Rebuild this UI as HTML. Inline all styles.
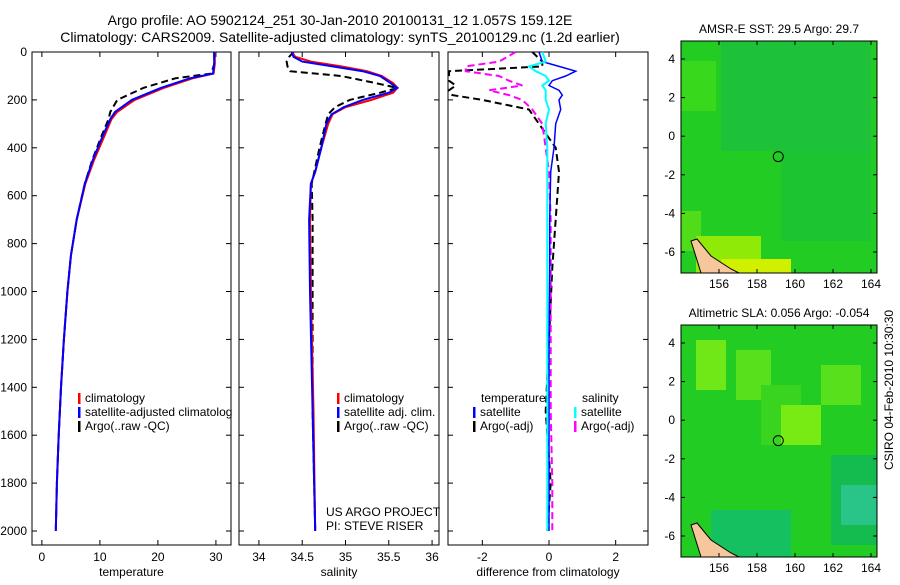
<!DOCTYPE html>
<html><head><meta charset="utf-8"><style>
body{margin:0;background:#fff;width:900px;height:580px;overflow:hidden}
svg{font-family:"Liberation Sans",sans-serif;}
</style></head><body>
<svg id="c" width="900" height="580" xmlns="http://www.w3.org/2000/svg">
<text x="340" y="25" text-anchor="middle" font-size="14">Argo profile: AO 5902124_251 30-Jan-2010 20100131_12 1.057S 159.12E</text>
<text x="340" y="42" text-anchor="middle" font-size="14">Climatology: CARS2009. Satellite-adjusted climatology: synTS_20100129.nc (1.2d earlier)</text>
</svg>
<script>
// ---- data ----
const depth = [0,50,90,110,150,200,250,280,350,450,550,700,850,1000,1200,1400,1600,1800,2000];
const tempClim = [29.8,29.8,29.6,26,21,16,13,12,10.8,9,7.5,6,5,4.4,3.8,3.3,2.9,2.6,2.4];
const tempSat  = [29.7,29.7,29.5,25.5,20.5,15.5,12.6,11.8,10.5,8.8,7.4,6,5,4.4,3.8,3.3,2.9,2.6,2.4];
const tempArgo = [29.7,29.7,29.2,23,17.5,13,11.8,11.5,10.3,8.7,7.4,6,5,4.4,3.8,3.3,2.9,2.6,2.4];
const salDepth = [0,20,40,60,80,100,130,150,170,200,230,260,300,400,500,550,700,1000,1500,2000];
const salClim = [34.38,34.42,34.6,34.95,35.25,35.42,35.55,35.6,35.55,35.3,35.0,34.85,34.8,34.72,34.65,34.6,34.59,34.6,34.63,34.65];
const salSat  = [34.38,34.4,34.5,34.85,35.2,35.4,35.52,35.6,35.5,35.2,34.98,34.84,34.78,34.72,34.65,34.6,34.58,34.59,34.62,34.65];
const salArgo = [34.4,34.35,34.32,34.33,34.36,34.95,35.35,35.6,35.4,35.05,34.88,34.8,34.77,34.7,34.64,34.61,34.62,34.62,34.62,34.65];
const dDepth = [0,40,60,80,100,120,140,160,180,200,240,300,400,500,700,900,1200,1500,1800,2000];
const dTsat  = [-0.3,-0.2,0.3,0.8,0.5,0.1,0.0,0.3,0.4,0.3,0.35,0.2,0.15,0.05,0.02,0.02,0.0,0.0,0.0,0.0];
const dTargo = [-0.5,-0.2,-0.2,-3,-3,-3,-2.8,-3,-2.9,-2,-0.6,-0.3,0.2,0.3,0.2,0.1,0.0,-0.1,0.05,-0.05];
const dSsat  = [-0.2,-0.1,-0.6,-0.4,-0.1,0.0,-0.2,-0.1,-0.1,-0.1,0.0,-0.1,-0.05,-0.05,-0.05,-0.05,-0.05,-0.05,-0.05,-0.05];
const dSargo = [-1,-1.5,-2.5,-2.5,-1.5,-1.2,-0.8,-1.8,-1.2,-0.8,-0.5,-0.2,-0.1,0.0,0.05,0.05,0.05,0.05,0.1,0.1];
const tTicks=[0,10,20,30], sTicks=[34,34.5,35,35.5,36], dTicks=[-2,0,2], yTicks=[0,200,400,600,800,1000,1200,1400,1600,1800,2000];
const lonTicks=[156,158,160,162,164], latTicks=[4,2,0,-2,-4,-6];

const svg=document.getElementById('c'), NS='http://www.w3.org/2000/svg';
function el(t,a,txt){const e=document.createElementNS(NS,t);for(const k in a)e.setAttribute(k,a[k]);if(txt!==undefined)e.textContent=txt;svg.appendChild(e);return e;}
const Y=d=>52+(d/2000)*479;
function panel(x0,x1,dmin,dmax,ticks,xlabel,name,showY){
  const X=v=>x0+(v-dmin)/(dmax-dmin)*(x1-x0);
  const r=el('rect',{x:x0,y:52,width:x1-x0,height:493,fill:'none',stroke:'#000'});
  
  ticks.forEach(t=>{const x=X(t);el('line',{x1:x,x2:x,y1:545,y2:540,stroke:'#000'});el('line',{x1:x,x2:x,y1:52,y2:57,stroke:'#000'});
    const l=el('text',{x:x,y:561,'text-anchor':'middle','font-size':12},String(t));});
  yTicks.forEach(d=>{el('line',{x1:x0,x2:x0+5,y1:Y(d),y2:Y(d),stroke:'#000'});el('line',{x1:x1-5,x2:x1,y1:Y(d),y2:Y(d),stroke:'#000'});
    if(showY){const l=el('text',{x:x0-5,y:Y(d)+4,'text-anchor':'end','font-size':12},String(d));}});
  const xl=el('text',{x:(x0+x1)/2,y:576,'text-anchor':'middle','font-size':12},xlabel);
  return X;
}
function line(X,ds,vs,col,dash,w,name){
  const p=el('polyline',{points:vs.map((v,i)=>X(v).toFixed(1)+','+Y(ds[i]).toFixed(1)).join(' '),fill:'none',stroke:col,'stroke-width':w,'stroke-dasharray':dash||'none'});
  
}
function leg(x,y,col,txt,name){el('rect',{x:x,y:y-9,width:2.5,height:11,fill:col});const t=el('text',{x:x+7,y:y,'font-size':12},txt);}

const XT=panel(32,231,-1.7,32.6,tTicks,'temperature','temperature-panel',true);
line(XT,depth,tempArgo,'#000','7,4',2,'temp-argo-line');
line(XT,depth,tempClim,'#f00','',2,'temp-climatology-line');
line(XT,depth,tempSat,'#00f','',2,'temp-satellite-line');
leg(78,402,'#f00','climatology','legend-climatology');
leg(78,416,'#00f','satellite-adjusted climatology','legend-satellite');
leg(78,430,'#000','Argo(..raw -QC)','legend-argo');
el('rect',{x:232,y:380,width:7,height:60,fill:'#fff'});

const XS=panel(239,439,33.77,36.08,sTicks,'salinity','salinity-panel',false);
line(XS,salDepth,salArgo,'#000','7,4',2,'sal-argo-line');
line(XS,salDepth,salClim,'#f00','',2,'sal-climatology-line');
line(XS,salDepth,salSat,'#00f','',2,'sal-satellite-line');
leg(337,402,'#f00','climatology','legend-climatology-2');
leg(337,416,'#00f','satellite adj. clim.','legend-satellite-2');
leg(337,430,'#000','Argo(..raw -QC)','legend-argo-2');
el('text',{x:326,y:516,'font-size':12},'US ARGO PROJECT');
el('text',{x:326,y:530,'font-size':12},'PI: STEVE RISER');

const XD=panel(448,648,-3.03,2.97,dTicks,'difference from climatology','difference-panel',false);
line(XD,dDepth,dTargo,'#000','7,4',2,'diff-temp-argo-line');
line(XD,dDepth,dSargo,'#f0f','7,4',2,'diff-sal-argo-line');
line(XD,dDepth,dTsat,'#00f','',1.5,'diff-temp-satellite-line');
line(XD,dDepth,dSsat,'#0ff','',2,'diff-sal-satellite-line');
el('text',{x:481,y:402,'font-size':12},'temperature');
leg(473,416,'#00f','satellite','legend-temp-satellite');
leg(473,430,'#000','Argo(-adj)','legend-temp-argo');
el('text',{x:582,y:402,'font-size':12},'salinity');
leg(574,416,'#0ff','satellite','legend-sal-satellite');
leg(574,430,'#f0f','Argo(-adj)','legend-sal-argo');

// maps
function map(top,title,name,base,cols){
  const x0=681,x1=877,y1=top+232;
  const g=el('g',{});
  el('rect',{x:x0,y:top,width:196,height:232,fill:base});
  cols.forEach(c=>el('rect',{x:x0+c[0],y:top+c[1],width:c[2],height:c[3],fill:c[4]}));
  el('path',{d:`M${x0+10} ${top+200} L${x0+16} ${top+198} L${x0+30} ${top+215} L${x0+50} ${top+228} L${x0+58} ${top+232} L${x0+20} ${top+232} Z`,fill:'#f6c79a',stroke:'#000'});
  el('rect',{x:x0,y:top,width:196,height:232,fill:'none',stroke:'#000'});
  const X=l=>719+(l-156)*19, Yl=a=>top+18+(4-a)*19.3;
  lonTicks.forEach(l=>{el('line',{x1:X(l),x2:X(l),y1:top,y2:top+4,stroke:'#000'});el('line',{x1:X(l),x2:X(l),y1:y1,y2:y1-4,stroke:'#000'});el('text',{x:X(l),y:y1+15,'text-anchor':'middle','font-size':12},String(l));});
  latTicks.forEach(a=>{el('line',{x1:x0,x2:x0+4,y1:Yl(a),y2:Yl(a),stroke:'#000'});el('line',{x1:x1,x2:x1-4,y1:Yl(a),y2:Yl(a),stroke:'#000'});el('text',{x:x0-6,y:Yl(a)+4,'text-anchor':'end','font-size':12},String(a));});
  el('circle',{cx:X(159.12),cy:Yl(-1.057),r:5,fill:'none',stroke:'#000'});
  const t=el('text',{x:779,y:top-8,'text-anchor':'middle','font-size':12},title);
}
map(41,'AMSR-E SST: 29.5 Argo: 29.7','sst-map','#22cc22',[[40,0,150,110,'#1ec238'],[0,20,35,50,'#38d81c'],[0,170,20,40,'#50dc18'],[15,195,65,37,'#90ea08'],[40,218,70,14,'#d0f000'],[100,110,90,90,'#1cc432']]);
map(325,'Altimetric SLA: 0.056 Argo: -0.054','sla-map','#22cc22',[[15,15,30,50,'#70e818'],[55,25,35,50,'#58e01c'],[80,60,40,60,'#38d420'],[140,40,40,40,'#58e01c'],[100,80,40,40,'#78ea14'],[150,130,46,90,'#14bc50'],[30,185,80,47,'#14c060'],[160,160,36,40,'#28c488']]);
const side=el('text',{x:893,y:470,'font-size':12,transform:'rotate(-90 893 470)'},'CSIRO 04-Feb-2010 10:30:30');

</script>
</body></html>
